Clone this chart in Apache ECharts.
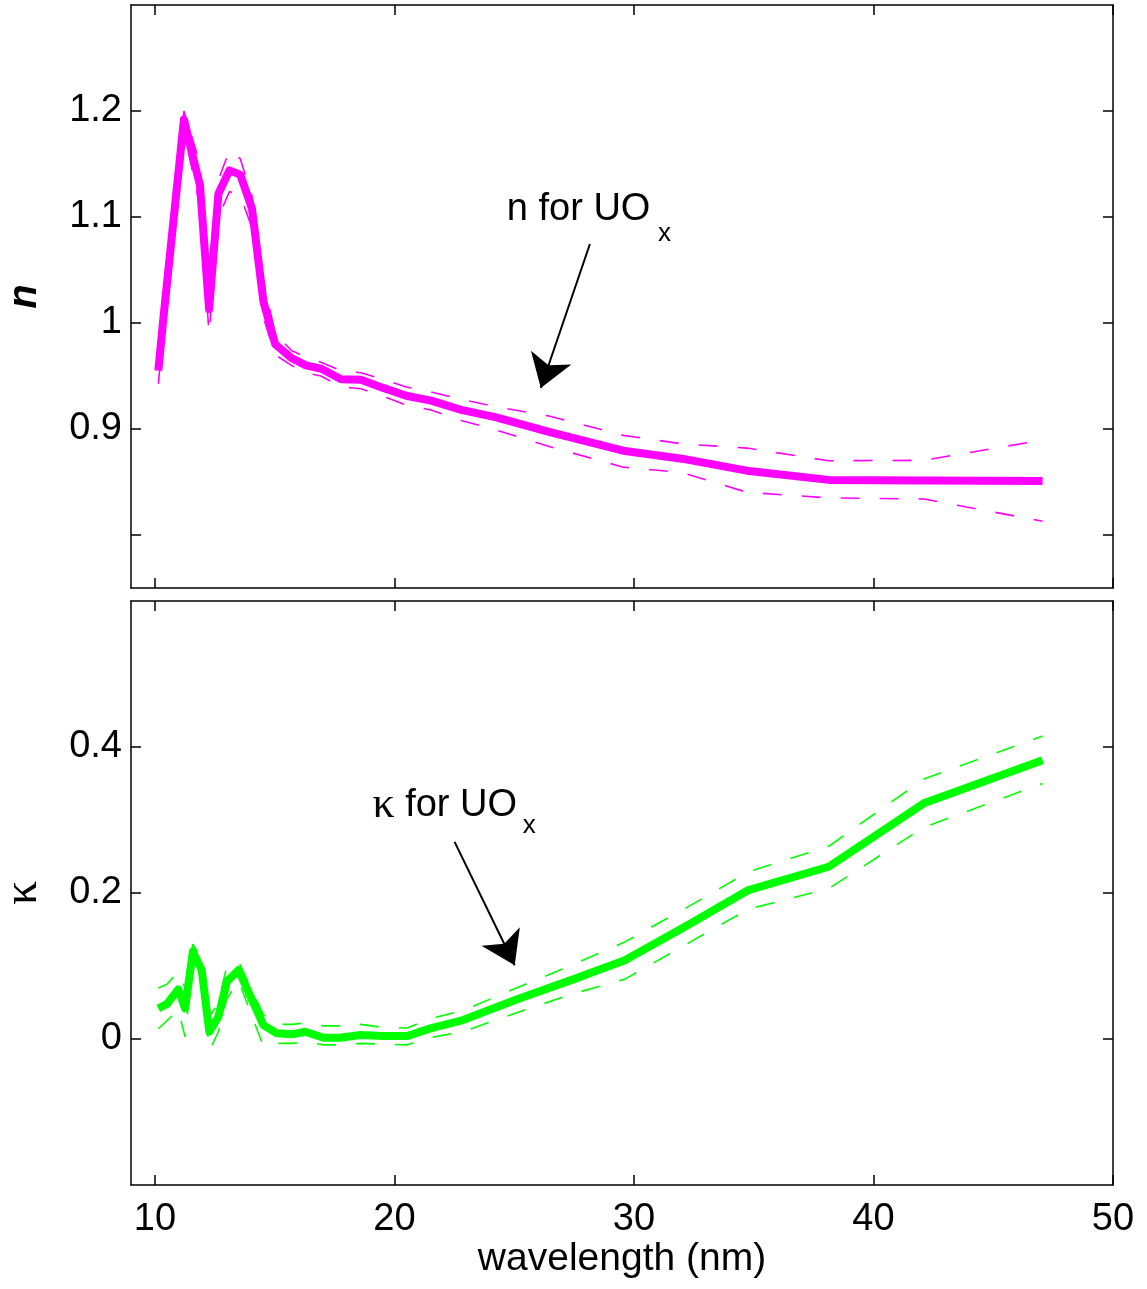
<!DOCTYPE html>
<html>
<head>
<meta charset="utf-8">
<script src="https://cdn.jsdelivr.net/npm/echarts@6/dist/echarts.min.js"></script>
<style>
html,body{margin:0;padding:0;background:#fff;}
#chart{width:1147px;height:1289px;}
</style>
</head>
<body>
<div id="chart"></div>
<script>
// ---------- data ----------
const nWave  = [10.14, 10.35, 11.21, 11.55, 11.88, 12.26, 12.65, 13.11, 13.56, 14.05, 14.53, 15.02, 15.7, 16.3, 16.93, 17.77, 18.6, 19.5, 20.49, 21.53, 22.79, 24.25, 26.49, 29.55, 32.0, 34.71, 38.13, 42.1, 47.06];
const nVal   = [0.955, 1.004, 1.192, 1.16, 1.13, 1.013, 1.122, 1.144, 1.140, 1.108, 1.020, 0.980, 0.967, 0.960, 0.957, 0.947, 0.9465, 0.939, 0.9314, 0.9267, 0.918, 0.911, 0.897, 0.8795, 0.872, 0.8607, 0.852, 0.8515, 0.851];
const nUpper = [0.968, 1.018, 1.200, 1.175, 1.150, 1.030, 1.135, 1.163, 1.155, 1.120, 1.040, 0.990, 0.974, 0.968, 0.963, 0.955, 0.953, 0.947, 0.9396, 0.935, 0.928, 0.921, 0.912, 0.894, 0.886, 0.882, 0.870, 0.8705, 0.8896];
const nLower = [0.9425, 0.99, 1.180, 1.145, 1.110, 0.990, 1.100, 1.124, 1.120, 1.090, 1.005, 0.970, 0.960, 0.953, 0.950, 0.940, 0.938, 0.931, 0.9226, 0.918, 0.908, 0.899, 0.8833, 0.864, 0.859, 0.8403, 0.835, 0.834, 0.813];

const kWave  = [10.14, 10.5, 10.97, 11.26, 11.58, 11.95, 12.27, 12.65, 13.0, 13.49, 14.53, 15.09, 15.72, 16.28, 17.04, 17.74, 18.58, 19.5, 20.53, 21.5, 22.86, 25.1, 27.46, 29.62, 32.2, 34.78, 38.13, 42.1, 47.06];
const kVal   = [0.042, 0.048, 0.068, 0.042, 0.1196, 0.0945, 0.010, 0.0306, 0.0785, 0.0945, 0.019, 0.0078, 0.0064, 0.010, 0.0018, 0.0018, 0.0055, 0.004, 0.004, 0.0146, 0.026, 0.054, 0.0817, 0.108, 0.155, 0.204, 0.236, 0.3228, 0.382];
const kUpper = [0.070, 0.075, 0.092, 0.070, 0.130, 0.110, 0.030, 0.050, 0.100, 0.106, 0.033, 0.020, 0.020, 0.022, 0.018, 0.018, 0.020, 0.016, 0.015, 0.028, 0.039, 0.070, 0.102, 0.133, 0.180, 0.229, 0.264, 0.356, 0.415];
const kLower = [0.014, 0.025, 0.040, 0.003, 0.110, 0.080, -0.016, 0.010, 0.055, 0.080, -0.010, -0.006, -0.006, -0.004, -0.008, -0.008, -0.006, -0.007, -0.008, 0.002, 0.010, 0.036, 0.062, 0.082, 0.130, 0.178, 0.206, 0.290, 0.350];

const xTicks   = [10, 20, 30, 40, 50];
const nTicks   = [0.8, 0.9, 1, 1.1, 1.2];
const nLabels  = [0.9, 1, 1.1, 1.2];
const kTicks   = [0, 0.2, 0.4];
const kLabels  = [0, 0.2, 0.4];

// annotation anchors (data coordinates)
const nArrow = [[28.16, 1.0745], [26.11, 0.9387]];
const kArrow = [[22.51, 0.270], [25.02, 0.101]];
const nText  = {main: [24.69, 1.107], sub: [31.0, 1.0845]};
const kText  = {main: [19.08, 0.3205], sub: [25.36, 0.2915]};

// ---------- helpers ----------
const zip = (xs, ys) => xs.map((x, i) => [x, ys[i]]);
const FONT = 'Liberation Sans, Arial, Helvetica, sans-serif';
const FS = 38;
const MAG = '#ff00ff', GRN = '#00ff00';

function xAx(grid, pos, labels) {
  return {
    type: 'value', gridIndex: grid, position: pos, min: 9, max: 50,
    axisLine: {show: true, onZero: false, lineStyle: {color: '#000', width: 1.5}},
    axisTick: {show: true, inside: true, length: 10, customValues: xTicks, lineStyle: {color: '#000', width: 1.5}},
    axisLabel: {show: labels, customValues: xTicks, color: '#000', fontFamily: FONT, fontSize: FS, margin: 16},
    splitLine: {show: false}
  };
}
function yAx(grid, pos, min, max, ticks, labs, labels) {
  return {
    type: 'value', gridIndex: grid, position: pos, min: min, max: max,
    axisLine: {show: true, onZero: false, lineStyle: {color: '#000', width: 1.5}},
    axisTick: {show: true, inside: true, length: 10, customValues: ticks, lineStyle: {color: '#000', width: 1.5}},
    axisLabel: {show: labels, customValues: labs, color: '#000', fontFamily: FONT, fontSize: FS, margin: 9,
                formatter: v => String(+v.toFixed(2))},
    splitLine: {show: false}
  };
}
function mainLine(name, xi, yi, data, color, arrow) {
  return {
    name, type: 'line', xAxisIndex: xi, yAxisIndex: yi, data, showSymbol: false, symbol: 'none',
    lineStyle: {color, width: 8, join: 'round'}, z: 3, silent: true, animation: false,
    markLine: {
      silent: true, symbol: ['none', 'arrow'], symbolSize: 32, animation: false,
      lineStyle: {color: '#000', width: 2, type: 'solid'}, label: {show: false},
      itemStyle: {color: '#000'},
      data: [[{coord: arrow[0], symbol: 'none'}, {coord: arrow[1], symbol: 'arrow', symbolSize: 32}]]
    }
  };
}
function band(name, xi, yi, data, color) {
  return {
    name, type: 'line', xAxisIndex: xi, yAxisIndex: yi, data, showSymbol: false, symbol: 'none',
    lineStyle: {color, width: 1.6, type: [19, 20]}, z: 2, silent: true, animation: false
  };
}

const chart = echarts.init(document.getElementById('chart'), null, {renderer: 'canvas'});
chart.setOption({
  backgroundColor: '#fff',
  animation: false,
  grid: [
    {left: 131, top: 5, width: 982, height: 583, containLabel: false, outerBoundsMode: 'none'},
    {left: 131, top: 601, width: 982, height: 584, containLabel: false, outerBoundsMode: 'none'}
  ],
  xAxis: [
    xAx(0, 'bottom', false),
    xAx(0, 'top', false),
    Object.assign(xAx(1, 'bottom', true), {
      name: 'wavelength (nm)', nameLocation: 'middle', nameGap: 55,
      nameTextStyle: {color: '#000', fontFamily: FONT, fontSize: 39}
    }),
    xAx(1, 'top', false)
  ],
  yAxis: [
    Object.assign(yAx(0, 'left', 0.75, 1.3, nTicks, nLabels, true), {
      name: 'n', nameLocation: 'middle', nameGap: 86, nameRotate: 90,
      nameTextStyle: {color: '#000', fontFamily: FONT, fontSize: 40, fontWeight: 'bold', fontStyle: 'italic'}
    }),
    yAx(0, 'right', 0.75, 1.3, nTicks, nLabels, false),
    Object.assign(yAx(1, 'left', -0.2, 0.6, kTicks, kLabels, true), {
      name: 'κ', nameLocation: 'middle', nameGap: 84, nameRotate: 90,
      nameTextStyle: {color: '#000', fontFamily: 'Liberation Serif, Times New Roman, serif', fontSize: 48}
    }),
    yAx(1, 'right', -0.2, 0.6, kTicks, kLabels, false)
  ],
  series: [
    band('n upper', 0, 0, zip(nWave, nUpper), MAG),
    band('n lower', 0, 0, zip(nWave, nLower), MAG),
    mainLine('n', 0, 0, zip(nWave, nVal), MAG, nArrow),
    band('k upper', 2, 2, zip(kWave, kUpper), GRN),
    band('k lower', 2, 2, zip(kWave, kLower), GRN),
    mainLine('k', 2, 2, zip(kWave, kVal), GRN, kArrow)
  ]
});

// annotation text placed from data coordinates
const p = (xi, yi, c) => chart.convertToPixel({xAxisIndex: xi, yAxisIndex: yi}, c);
const pn = p(0, 0, nText.main), pns = p(0, 0, nText.sub);
const pk = p(2, 2, kText.main), pks = p(2, 2, kText.sub);
chart.setOption({
  graphic: [
    {type: 'text', x: pn[0], y: pn[1], style: {text: 'n for UO', font: FS + 'px ' + FONT, fill: '#000', verticalAlign: 'middle', align: 'left'}},
    {type: 'text', x: pns[0], y: pns[1], style: {text: 'x', font: '26px ' + FONT, fill: '#000', verticalAlign: 'middle', align: 'left'}},
    {type: 'text', x: pk[0], y: pk[1], style: {
      text: '{g|κ} for UO', font: FS + 'px ' + FONT, fill: '#000', verticalAlign: 'middle', align: 'left',
      rich: {g: {fontFamily: 'Liberation Serif, serif', fontSize: 44, fill: '#000'}}
    }},
    {type: 'text', x: pks[0], y: pks[1], style: {text: 'x', font: '26px ' + FONT, fill: '#000', verticalAlign: 'middle', align: 'left'}}
  ]
});
</script>
</body>
</html>
